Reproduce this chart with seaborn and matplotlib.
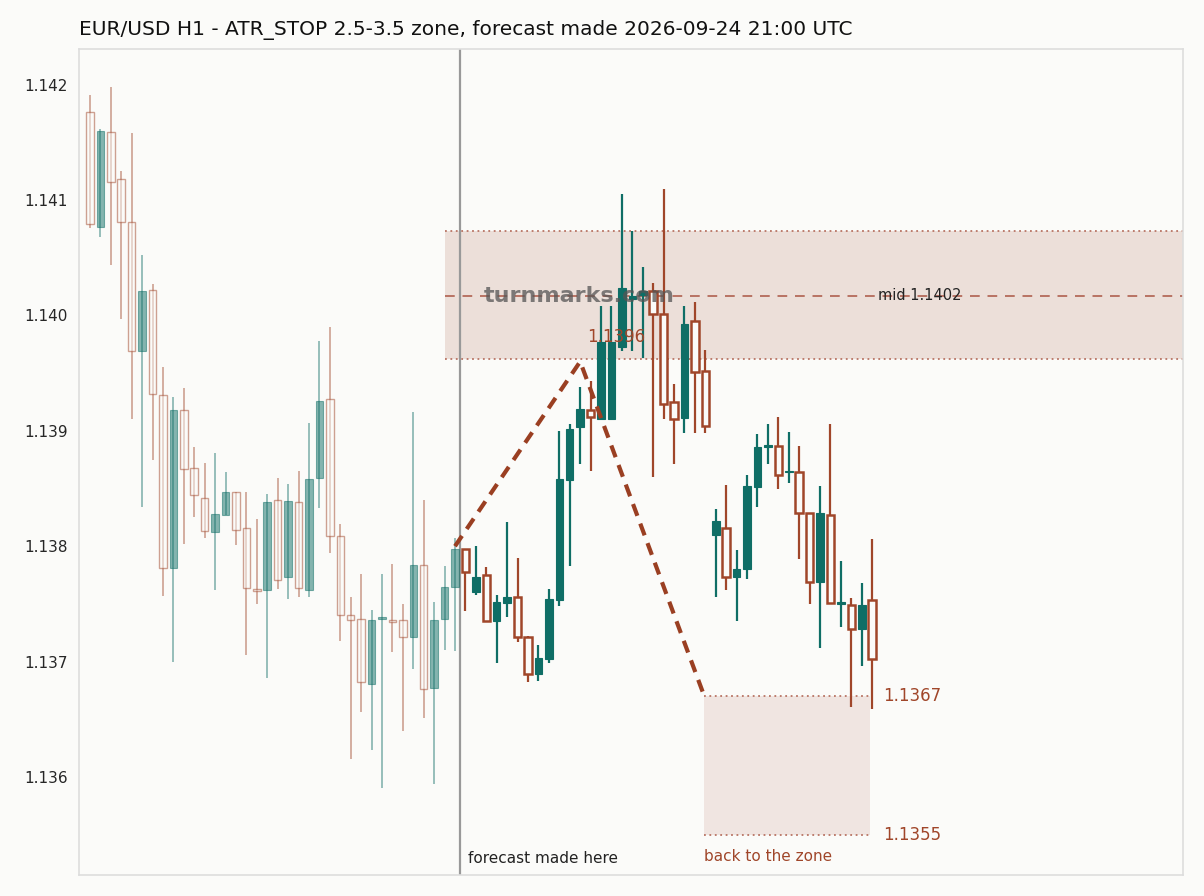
import numpy as np
import pandas as pd
import seaborn as sns
import matplotlib
matplotlib.use("Agg")
import matplotlib.pyplot as plt
import matplotlib.transforms as mtransforms

opens = [1.14176,1.14077,1.14159,1.14118,1.14081,1.13969,1.14022,1.13931,1.13781,1.13918,
         1.13868,1.13842,1.13812,1.13827,1.13847,1.13816,1.13763,1.13762,1.13840,1.13773,
         1.13838,1.13762,1.13859,1.13928,1.13809,1.13740,1.13737,1.13681,1.13737,1.13736,
         1.13736,1.13721,1.13784,1.13677,1.13737,1.13765,
         1.13798,1.13760,1.13775,1.13735,1.13751,1.13756,1.13721,1.13689,1.13702,1.13753,
         1.13857,1.13903,1.13918,1.13910,1.13910,1.13973,1.14014,1.14018,1.14021,1.14001,
         1.13925,1.13911,1.13995,1.13952,1.13810,1.13816,1.13773,1.13780,1.13851,1.13886,
         1.13887,1.13864,1.13864,1.13829,1.13769,1.13827,1.13750,1.13749,1.13728,1.13753]
highs = [1.14191,1.14162,1.14198,1.14125,1.14158,1.14052,1.14027,1.13955,1.13929,1.13937,
         1.13886,1.13872,1.13881,1.13864,1.13847,1.13847,1.13824,1.13845,1.13859,1.13854,
         1.13865,1.13907,1.13978,1.13990,1.13819,1.13756,1.13776,1.13745,1.13776,1.13785,
         1.13750,1.13916,1.13840,1.13752,1.13783,1.13807,
         1.13798,1.13800,1.13782,1.13758,1.13821,1.13790,1.13722,1.13714,1.13763,1.13900,
         1.13906,1.13938,1.13943,1.14008,1.14008,1.14105,1.14073,1.14042,1.14028,1.14110,
         1.13941,1.14008,1.14012,1.13970,1.13832,1.13853,1.13797,1.13862,1.13897,1.13906,
         1.13912,1.13899,1.13887,1.13829,1.13852,1.13906,1.13787,1.13755,1.13768,1.13806]
lows = [1.14076,1.14068,1.14044,1.13997,1.13910,1.13834,1.13875,1.13757,1.13700,1.13802,
        1.13825,1.13807,1.13762,1.13827,1.13801,1.13706,1.13750,1.13686,1.13763,1.13754,
        1.13756,1.13756,1.13833,1.13794,1.13718,1.13616,1.13656,1.13623,1.13590,1.13708,
        1.13640,1.13694,1.13651,1.13594,1.13710,1.13709,
        1.13744,1.13758,1.13735,1.13699,1.13739,1.13717,1.13682,1.13683,1.13699,1.13748,
        1.13783,1.13871,1.13865,1.13910,1.13910,1.13969,1.13969,1.13963,1.13860,1.13910,
        1.13871,1.13898,1.13898,1.13898,1.13756,1.13762,1.13735,1.13772,1.13834,1.13871,
        1.13850,1.13855,1.13789,1.13750,1.13712,1.13751,1.13730,1.13661,1.13696,1.13659]
closes = [1.14079,1.14160,1.14116,1.14081,1.13969,1.14021,1.13932,1.13781,1.13918,1.13867,
          1.13844,1.13813,1.13828,1.13847,1.13814,1.13764,1.13761,1.13838,1.13771,1.13839,
          1.13764,1.13858,1.13926,1.13809,1.13740,1.13736,1.13682,1.13736,1.13738,1.13734,
          1.13721,1.13784,1.13676,1.13736,1.13765,1.13798,
          1.13778,1.13773,1.13735,1.13752,1.13756,1.13721,1.13689,1.13703,1.13754,1.13858,
          1.13902,1.13919,1.13912,1.13977,1.13977,1.14024,1.14017,1.14021,1.14001,1.13923,
          1.13910,1.13993,1.13951,1.13904,1.13822,1.13773,1.13780,1.13852,1.13886,1.13888,
          1.13862,1.13865,1.13829,1.13769,1.13829,1.13751,1.13752,1.13728,1.13749,1.13702]
n_history = 36
zone_top, zone_mid, zone_bot = 1.14073, 1.14017, 1.13962
target_top, target_bot = 1.1367, 1.1355
path_x = [35.0, 47.0, 58.9]
path_y = [1.1380, 1.1396, 1.1367]
title = "EUR/USD H1 - ATR_STOP 2.5-3.5 zone, forecast made 2026-09-24 21:00 UTC"

UP = "#0f6e66"
DOWN = "#a0462a"
BG = "#fbfbf9"

sns.set_theme(style="white")
plt.rcParams['font.family'] = ['DejaVu Sans']
fig = plt.figure(figsize=(12.04, 8.96), dpi=100, facecolor=BG)
ax = fig.add_axes([0.0656, 0.0234, 0.917, 0.922])
ax.set_facecolor(BG)

df = pd.DataFrame({"o": opens, "h": highs, "l": lows, "c": closes})
df["i"] = np.arange(len(df))
w = 0.72
for _, r in df.iterrows():
    up = r.c >= r.o
    col = UP if up else DOWN
    hist = r.i < n_history
    alpha = 0.5 if hist else 1.0
    lw_w = 1.2 if hist else 1.6
    ax.vlines(r.i, r.l, r.h, color=col, lw=lw_w, alpha=alpha, zorder=3)
    lo, hi = min(r.o, r.c), max(r.o, r.c)
    hgt = max(hi - lo, 0.000015)
    if up:
        ax.bar(r.i, hgt, bottom=lo, width=w, color=col, edgecolor=col,
               lw=0.8, alpha=alpha, zorder=4)
    else:
        ax.bar(r.i, hgt, bottom=lo, width=w, facecolor=BG, edgecolor=col,
               lw=1.0 if hist else 1.8, alpha=alpha, zorder=4)

x0, x1 = -1.05, 104.8
# zone
ax.fill_between([34.0, x1], zone_bot, zone_top, color="#ecdfd9", zorder=1, lw=0)
for yv in (zone_top, zone_bot):
    ax.plot([34.0, x1], [yv, yv], ls=(0, (1, 2)), color="#b87363", lw=1.3, zorder=2)
ax.plot([34.0, x1], [zone_mid, zone_mid], ls=(0, (5, 4)), color="#b87363", lw=1.4, zorder=2)
ax.text(75.6, zone_mid, "mid 1.1402", fontsize=10.5, va="center", ha="left", color="#222222", zorder=6)

# target zone
ax.fill_between([58.9, 74.8], target_bot, target_top, color="#f0e5e1", zorder=1, lw=0)
for yv in (target_top, target_bot):
    ax.plot([58.9, 74.8], [yv, yv], ls=(0, (1, 2)), color="#b87363", lw=1.3, zorder=2)
ax.text(76.0, target_top, "1.1367", fontsize=12, color=DOWN, va="center")
ax.text(76.0, target_bot, "1.1355", fontsize=12, color=DOWN, va="center")

# path
sns.lineplot(x=path_x, y=path_y, ax=ax, color="#9a3f22", lw=3, linestyle=(0, (3, 2)), zorder=5)
ax.text(47.7, 1.13981, "1.1396", fontsize=12, color=DOWN, va="center", ha="left", zorder=6)

ax.axvline(35.5, color="#999999", lw=1.6, zorder=2)
trans = mtransforms.blended_transform_factory(ax.transData, ax.transAxes)
ax.text(36.2, 0.02, "forecast made here", transform=trans, fontsize=11, color="#222222", va="center")
ax.text(58.9, 0.023, "back to the zone", transform=trans, fontsize=11, color=DOWN, va="center")

ax.text(37.8, zone_mid, "turnmarks.com", fontsize=16, fontweight="bold", color="#555555",
        alpha=0.75, va="center", ha="left", zorder=7)

ax.set_xlim(x0, x1)
ax.set_ylim(1.13515, 1.14231)
ax.set_xticks([])
ax.set_yticks([1.136, 1.137, 1.138, 1.139, 1.140, 1.141, 1.142])
ax.set_yticklabels(["1.136", "1.137", "1.138", "1.139", "1.140", "1.141", "1.142"], fontsize=11)
ax.tick_params(axis="y", length=0, pad=8)
for s in ax.spines.values():
    s.set_color("#dddddd")
    s.set_linewidth(1.2)
ax.set_xlabel("")
ax.set_ylabel("")
fig.text(0.0656, 0.967, title, fontsize=14.5, ha="left", va="center", color="#111111")
fig.savefig("out.png", dpi=100, facecolor=BG)
